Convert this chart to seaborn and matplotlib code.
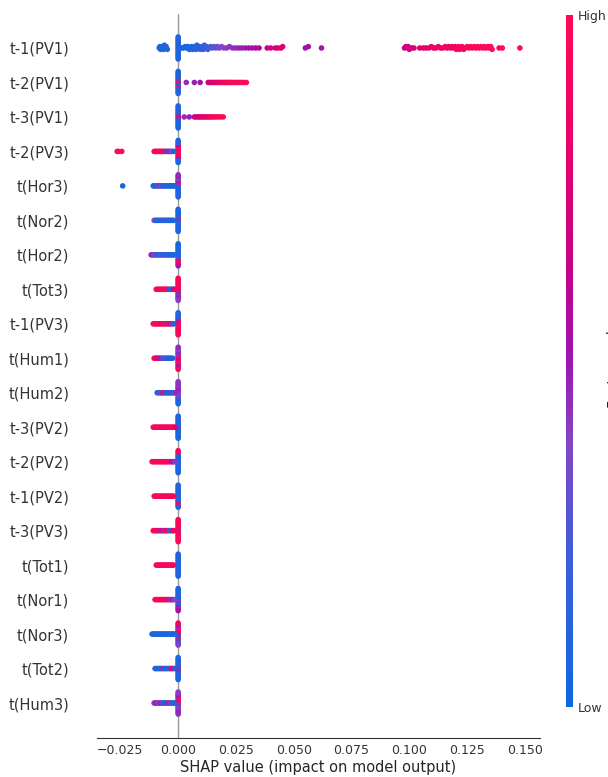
import numpy as np
import pandas as pd
import matplotlib
matplotlib.use("Agg")
import matplotlib.pyplot as plt
import seaborn as sns
from matplotlib.colors import LinearSegmentedColormap, Normalize
from matplotlib.cm import ScalarMappable

# Features, most important first
features = ["t-1(PV1)", "t-2(PV1)", "t-3(PV1)", "t-2(PV3)", "t(Hor3)", "t(Nor2)",
            "t(Hor2)", "t(Tot3)", "t-1(PV3)", "t(Hum1)", "t(Hum2)", "t-3(PV2)",
            "t-2(PV2)", "t-1(PV2)", "t-3(PV3)", "t(Tot1)", "t(Nor1)", "t(Nor3)",
            "t(Tot2)", "t(Hum3)"]

# Samples whose SHAP value is ~0: normalised feature values (0 = low, 1 = high)
P_t1_PV1 = [0.06, 0.10, 0.04, 0.12, 0.08, 0.05, 0.14, 0.09, 0.07, 0.11, 0.05, 0.13, 0.06, 0.10, 0.08, 0.12, 0.05]
P_t2_PV1 = [0.10, 0.90, 0.85, 0.08, 0.12, 0.92, 0.06, 0.05, 0.95, 0.09, 0.07, 0.11, 0.10, 0.06, 0.05, 0.08, 0.12]
P_t3_PV1 = [0.90, 0.50, 0.85, 0.92, 0.45, 0.10, 0.08, 0.12, 0.06, 0.09, 0.05, 0.11, 0.07, 0.08, 0.05, 0.10, 0.06]
P_t2_PV3 = [0.95, 0.92, 0.97, 0.90, 0.94, 0.96, 0.93, 0.98, 0.91, 0.60, 0.95, 0.15, 0.50, 0.10, 0.12, 0.08, 0.06]
P_Hor3 = [0.95, 0.90, 0.10, 0.45, 0.08, 0.92, 0.12, 0.50, 0.06, 0.40, 0.05, 0.35, 0.10, 0.55, 0.08, 0.45, 0.12]
P_Nor2 = [0.90, 0.92, 0.10, 0.95, 0.08, 0.06, 0.12, 0.05, 0.09, 0.07, 0.11, 0.05, 0.08, 0.06, 0.10, 0.07, 0.05]
P_Hor2 = [0.08, 0.06, 0.10, 0.05, 0.12, 0.07, 0.09, 0.05, 0.40, 0.08, 0.90, 0.06, 0.95, 0.10, 0.92, 0.05, 0.50]
P_Tot3 = [0.60, 0.95, 0.45, 0.92, 0.90, 0.97, 0.40, 0.94, 0.55, 0.90, 0.35, 0.96, 0.50, 0.93, 0.45, 0.95, 0.40]
P_t1_PV3 = [0.95, 0.92, 0.97, 0.90, 0.94, 0.96, 0.93, 0.50, 0.98, 0.15, 0.91, 0.10, 0.95, 0.08, 0.92, 0.12, 0.96]
P_Hum1 = [0.95, 0.90, 0.93, 0.96, 0.50, 0.45, 0.92, 0.40, 0.97, 0.50, 0.45, 0.35, 0.90, 0.40, 0.50, 0.45, 0.95]
P_Hum2 = [0.40, 0.45, 0.35, 0.42, 0.38, 0.45, 0.40, 0.48, 0.36, 0.44, 0.15, 0.40, 0.10, 0.46, 0.08, 0.42, 0.06]
P_t3_PV2 = [0.08, 0.06, 0.90, 0.10, 0.05, 0.12, 0.07, 0.09, 0.05, 0.11, 0.08, 0.06, 0.10, 0.07, 0.05, 0.09, 0.06]
P_t2_PV2 = [0.08, 0.06, 0.10, 0.05, 0.12, 0.07, 0.09, 0.05, 0.11, 0.08, 0.06, 0.10, 0.07, 0.90, 0.09, 0.95, 0.06]
P_t1_PV2 = [0.08, 0.06, 0.10, 0.05, 0.12, 0.07, 0.09, 0.05, 0.11, 0.08, 0.06, 0.10, 0.92, 0.07, 0.95, 0.09, 0.06]
P_t3_PV3 = [0.10, 0.92, 0.15, 0.95, 0.90, 0.97, 0.93, 0.96, 0.91, 0.94, 0.98, 0.92, 0.95, 0.90, 0.96, 0.93, 0.97]
P_Tot1 = [0.08, 0.06, 0.10, 0.05, 0.12, 0.07, 0.09, 0.05, 0.11, 0.08, 0.06, 0.10, 0.07, 0.05, 0.09, 0.06, 0.08]
P_Nor1 = [0.08, 0.06, 0.90, 0.05, 0.12, 0.07, 0.45, 0.05, 0.11, 0.08, 0.06, 0.10, 0.50, 0.05, 0.45, 0.06, 0.55]
P_Nor3 = [0.45, 0.95, 0.10, 0.92, 0.50, 0.90, 0.08, 0.96, 0.95, 0.40, 0.12, 0.93, 0.45, 0.50, 0.10, 0.92, 0.40]
P_Tot2 = [0.10, 0.45, 0.08, 0.90, 0.06, 0.12, 0.50, 0.05, 0.10, 0.07, 0.09, 0.05, 0.11, 0.08, 0.06, 0.10, 0.07]
P_Hum3 = [0.45, 0.90, 0.40, 0.95, 0.42, 0.92, 0.48, 0.96, 0.38, 0.45, 0.40, 0.50, 0.44, 0.42, 0.46, 0.40, 0.45]

# Remaining samples: (SHAP value, normalised feature value)
T_t1_PV1 = [(-0.0082, 0.08), (-0.0079, 0.05), (-0.0076, 0.10), (-0.0072, 0.06), (-0.0068, 0.12),
            (-0.0064, 0.07), (-0.0060, 0.09), (-0.0056, 0.05), (-0.0052, 0.11), (-0.0047, 0.08),
            (0.0015, 0.03), (0.0022, 0.05), (0.0030, 0.04), (0.0036, 0.06), (0.0042, 0.05),
            (0.0048, 0.08), (0.0053, 0.07), (0.0058, 0.06), (0.0063, 0.09), (0.0068, 0.08),
            (0.0072, 0.10), (0.0077, 0.09), (0.0081, 0.12), (0.0086, 0.11), (0.0090, 0.13),
            (0.0095, 0.12), (0.0100, 0.15), (0.0104, 0.14), (0.0109, 0.17), (0.0113, 0.16),
            (0.0118, 0.18), (0.0122, 0.20), (0.0128, 0.19), (0.0133, 0.22), (0.0140, 0.24),
            (0.0147, 0.26), (0.0155, 0.28), (0.0163, 0.30), (0.0170, 0.32),
            (0.0178, 0.34), (0.0188, 0.36), (0.0198, 0.38), (0.0210, 0.40), (0.0222, 0.42),
            (0.0235, 0.43), (0.0248, 0.45), (0.0262, 0.47), (0.0275, 0.48), (0.0290, 0.50),
            (0.0305, 0.52), (0.0320, 0.54), (0.0335, 0.56), (0.0350, 0.58),
            (0.0385, 0.66), (0.0400, 0.70), (0.0420, 0.74), (0.0432, 0.72), (0.0445, 0.78), (0.0452, 0.76),
            (0.0550, 0.50), (0.0563, 0.52), (0.0620, 0.55),
            (0.0979, 0.66), (0.0985, 0.70), (0.0992, 0.68), (0.0995, 0.72), (0.1000, 0.70),
            (0.1010, 0.74), (0.1020, 0.73),
            (0.1045, 0.76), (0.1060, 0.78), (0.1072, 0.80), (0.1085, 0.79), (0.1095, 0.82),
            (0.1105, 0.81), (0.1115, 0.84), (0.1125, 0.83), (0.1135, 0.85), (0.1145, 0.86),
            (0.1155, 0.87), (0.1163, 0.86), (0.1170, 0.88), (0.1178, 0.89), (0.1185, 0.88),
            (0.1192, 0.90), (0.1198, 0.89), (0.1203, 0.91), (0.1208, 0.90), (0.1213, 0.92),
            (0.1218, 0.91), (0.1223, 0.93), (0.1228, 0.92), (0.1235, 0.94), (0.1242, 0.93),
            (0.1250, 0.95), (0.1258, 0.94), (0.1265, 0.96), (0.1272, 0.95), (0.1280, 0.97),
            (0.1288, 0.96), (0.1295, 0.97), (0.1302, 0.98), (0.1310, 0.97), (0.1318, 0.98),
            (0.1325, 0.99), (0.1332, 0.98), (0.1340, 0.99), (0.1346, 1.00), (0.1352, 0.99),
            (0.1358, 1.00), (0.1388, 0.98), (0.1402, 0.99), (0.1478, 1.00)]
T_t2_PV1 = [(0.0035, 0.45), (0.0070, 0.48), (0.0095, 0.50),
            (0.0130, 0.68), (0.0137, 0.70), (0.0145, 0.74), (0.0152, 0.72), (0.0160, 0.78),
            (0.0167, 0.80), (0.0174, 0.84), (0.0180, 0.82), (0.0187, 0.88), (0.0193, 0.86),
            (0.0200, 0.90), (0.0206, 0.92), (0.0212, 0.88), (0.0218, 0.94), (0.0224, 0.92),
            (0.0230, 0.96), (0.0237, 0.95), (0.0244, 0.97), (0.0252, 0.96), (0.0260, 0.98),
            (0.0268, 0.97), (0.0276, 0.99), (0.0285, 0.98), (0.0295, 1.00)]
T_t3_PV1 = [(0.0026, 0.45), (0.0048, 0.48), (0.0070, 0.66), (0.0078, 0.70), (0.0086, 0.68),
            (0.0093, 0.74), (0.0100, 0.78), (0.0107, 0.76), (0.0114, 0.82), (0.0121, 0.85),
            (0.0128, 0.88), (0.0135, 0.86), (0.0142, 0.90), (0.0150, 0.92), (0.0158, 0.94),
            (0.0166, 0.93), (0.0175, 0.96), (0.0185, 0.97), (0.0195, 0.99)]
T_t2_PV3 = [(-0.0264, 0.97), (-0.0258, 0.98), (-0.0244, 0.96),
            (-0.0104, 0.95), (-0.0099, 0.97), (-0.0094, 0.93), (-0.0089, 0.96), (-0.0084, 0.94),
            (-0.0079, 0.98), (-0.0074, 0.92), (-0.0069, 0.95), (-0.0064, 0.90), (-0.0059, 0.93),
            (-0.0054, 0.55), (-0.0049, 0.20), (-0.0044, 0.60), (-0.0039, 0.15), (-0.0034, 0.45),
            (-0.0029, 0.20), (-0.0024, 0.35), (-0.0019, 0.10)]
T_Hor3 = [(-0.0240, 0.05),
          (-0.0108, 0.08), (-0.0103, 0.05), (-0.0098, 0.10), (-0.0093, 0.06), (-0.0088, 0.40),
          (-0.0083, 0.12), (-0.0078, 0.45), (-0.0073, 0.35), (-0.0068, 0.08), (-0.0063, 0.42),
          (-0.0058, 0.10), (-0.0053, 0.05), (-0.0048, 0.12), (-0.0043, 0.06), (-0.0038, 0.09),
          (-0.0033, 0.05), (-0.0028, 0.08), (-0.0023, 0.06), (-0.0018, 0.10), (-0.0013, 0.05)]
T_Nor2 = [(-0.0104, 0.40), (-0.0099, 0.35), (-0.0094, 0.10), (-0.0089, 0.06), (-0.0084, 0.12),
          (-0.0079, 0.05), (-0.0074, 0.08), (-0.0069, 0.10), (-0.0064, 0.06), (-0.0059, 0.30),
          (-0.0054, 0.05), (-0.0049, 0.09), (-0.0044, 0.07), (-0.0039, 0.12), (-0.0034, 0.05),
          (-0.0029, 0.08), (-0.0024, 0.06), (-0.0019, 0.10)]
T_Hor2 = [(-0.0117, 0.45), (-0.0112, 0.50), (-0.0107, 0.40), (-0.0102, 0.35), (-0.0097, 0.10),
          (-0.0092, 0.08), (-0.0087, 0.40), (-0.0082, 0.12), (-0.0077, 0.06), (-0.0072, 0.38),
          (-0.0067, 0.05), (-0.0062, 0.10), (-0.0057, 0.07), (-0.0052, 0.30), (-0.0047, 0.05),
          (-0.0042, 0.08), (-0.0037, 0.10), (-0.0032, 0.06), (-0.0027, 0.09), (-0.0022, 0.05),
          (-0.0017, 0.08)]
T_Tot3 = [(-0.0095, 0.95), (-0.0090, 0.97), (-0.0085, 0.93), (-0.0080, 0.96), (-0.0075, 0.94),
          (-0.0070, 0.98), (-0.0065, 0.92), (-0.0060, 0.95), (-0.0055, 0.90), (-0.0050, 0.96),
          (-0.0045, 0.93), (-0.0040, 0.45), (-0.0035, 0.10), (-0.0030, 0.08), (-0.0025, 0.12),
          (-0.0020, 0.50), (-0.0015, 0.90)]
T_t1_PV3 = [(-0.0108, 0.95), (-0.0103, 0.97), (-0.0098, 0.93), (-0.0093, 0.96), (-0.0088, 0.94),
            (-0.0083, 0.98), (-0.0078, 0.92), (-0.0073, 0.95), (-0.0068, 0.90), (-0.0063, 0.96),
            (-0.0058, 0.93), (-0.0053, 0.15), (-0.0048, 0.95), (-0.0043, 0.92), (-0.0038, 0.96),
            (-0.0033, 0.90), (-0.0028, 0.94), (-0.0023, 0.20), (-0.0018, 0.10)]
T_Hum1 = [(-0.0104, 0.95), (-0.0099, 0.97), (-0.0094, 0.92), (-0.0089, 0.90), (-0.0084, 0.55),
          (-0.0079, 0.45), (-0.0074, 0.70), (-0.0069, 0.40), (-0.0064, 0.15), (-0.0059, 0.10),
          (-0.0054, 0.35), (-0.0049, 0.08), (-0.0044, 0.12), (-0.0039, 0.06), (-0.0034, 0.10),
          (-0.0029, 0.05), (-0.0024, 0.08)]
T_Hum2 = [(-0.0091, 0.10), (-0.0086, 0.06), (-0.0081, 0.12), (-0.0076, 0.40), (-0.0071, 0.08),
          (-0.0066, 0.90), (-0.0061, 0.45), (-0.0056, 0.92), (-0.0051, 0.10), (-0.0046, 0.05),
          (-0.0041, 0.08), (-0.0036, 0.12), (-0.0031, 0.06), (-0.0026, 0.09), (-0.0021, 0.05),
          (-0.0016, 0.30), (-0.0011, 0.45)]
T_t3_PV2 = [(-0.0108, 0.95), (-0.0103, 0.97), (-0.0098, 0.93), (-0.0093, 0.96), (-0.0088, 0.94),
            (-0.0083, 0.98), (-0.0078, 0.92), (-0.0073, 0.95), (-0.0068, 0.90), (-0.0063, 0.96),
            (-0.0058, 0.93), (-0.0053, 0.97), (-0.0048, 0.91), (-0.0043, 0.95), (-0.0038, 0.92),
            (-0.0033, 0.96), (-0.0028, 0.94), (-0.0023, 0.90), (-0.0018, 0.93), (-0.0013, 0.80)]
T_t2_PV2 = [(-0.0113, 0.95), (-0.0108, 0.97), (-0.0103, 0.93), (-0.0098, 0.96), (-0.0093, 0.94),
            (-0.0088, 0.98), (-0.0083, 0.92), (-0.0078, 0.95), (-0.0073, 0.90), (-0.0068, 0.96),
            (-0.0063, 0.93), (-0.0058, 0.97), (-0.0053, 0.91), (-0.0048, 0.95), (-0.0043, 0.92),
            (-0.0038, 0.96), (-0.0033, 0.94), (-0.0028, 0.55), (-0.0023, 0.45), (-0.0018, 0.50),
            (-0.0013, 0.40)]
T_t1_PV2 = [(-0.0104, 0.95), (-0.0099, 0.97), (-0.0094, 0.93), (-0.0089, 0.96), (-0.0084, 0.94),
            (-0.0079, 0.98), (-0.0074, 0.92), (-0.0069, 0.95), (-0.0064, 0.90), (-0.0059, 0.96),
            (-0.0054, 0.93), (-0.0049, 0.97), (-0.0044, 0.91), (-0.0039, 0.95), (-0.0034, 0.92),
            (-0.0029, 0.96), (-0.0024, 0.94), (-0.0019, 0.90)]
T_t3_PV3 = [(-0.0108, 0.95), (-0.0103, 0.97), (-0.0098, 0.93), (-0.0093, 0.96), (-0.0088, 0.94),
            (-0.0083, 0.90), (-0.0078, 0.45), (-0.0073, 0.92), (-0.0068, 0.50), (-0.0063, 0.40),
            (-0.0058, 0.93), (-0.0053, 0.95), (-0.0048, 0.91), (-0.0043, 0.95), (-0.0038, 0.15),
            (-0.0033, 0.10), (-0.0028, 0.12), (-0.0023, 0.93), (-0.0018, 0.90)]
T_Tot1 = [(-0.0095, 0.95), (-0.0090, 0.97), (-0.0085, 0.93), (-0.0080, 0.96), (-0.0075, 0.94),
          (-0.0070, 0.98), (-0.0065, 0.92), (-0.0060, 0.95), (-0.0055, 0.90), (-0.0050, 0.96),
          (-0.0045, 0.93), (-0.0040, 0.97), (-0.0035, 0.91), (-0.0030, 0.95), (-0.0025, 0.92),
          (-0.0020, 0.88)]
T_Nor1 = [(-0.0100, 0.95), (-0.0095, 0.97), (-0.0090, 0.93), (-0.0085, 0.96), (-0.0080, 0.94),
          (-0.0075, 0.98), (-0.0070, 0.92), (-0.0065, 0.95), (-0.0060, 0.90), (-0.0055, 0.96),
          (-0.0050, 0.93), (-0.0045, 0.50), (-0.0040, 0.45), (-0.0035, 0.92), (-0.0030, 0.40),
          (-0.0025, 0.55), (-0.0020, 0.45), (-0.0015, 0.35)]
T_Nor3 = [(-0.0113, 0.08), (-0.0108, 0.06), (-0.0103, 0.10), (-0.0098, 0.05), (-0.0093, 0.12),
          (-0.0088, 0.07), (-0.0083, 0.09), (-0.0078, 0.05), (-0.0073, 0.11), (-0.0068, 0.08),
          (-0.0063, 0.06), (-0.0058, 0.10), (-0.0053, 0.07), (-0.0048, 0.05), (-0.0043, 0.09),
          (-0.0038, 0.06), (-0.0033, 0.08), (-0.0028, 0.10), (-0.0023, 0.05), (-0.0018, 0.07),
          (-0.0013, 0.09)]
T_Tot2 = [(-0.0100, 0.08), (-0.0095, 0.06), (-0.0090, 0.10), (-0.0085, 0.05), (-0.0080, 0.12),
          (-0.0075, 0.07), (-0.0070, 0.09), (-0.0065, 0.85), (-0.0060, 0.11), (-0.0055, 0.08),
          (-0.0050, 0.06), (-0.0045, 0.10), (-0.0040, 0.07), (-0.0035, 0.05), (-0.0030, 0.90),
          (-0.0025, 0.92), (-0.0020, 0.88), (-0.0015, 0.10)]
T_Hum3 = [(-0.0104, 0.45), (-0.0099, 0.40), (-0.0094, 0.50), (-0.0089, 0.42), (-0.0084, 0.38),
          (-0.0079, 0.45), (-0.0074, 0.48), (-0.0069, 0.40), (-0.0064, 0.12), (-0.0059, 0.08),
          (-0.0054, 0.10), (-0.0049, 0.06), (-0.0044, 0.45), (-0.0039, 0.92), (-0.0034, 0.40),
          (-0.0029, 0.10), (-0.0024, 0.08), (-0.0019, 0.12), (-0.0014, 0.10)]

piles = [P_t1_PV1, P_t2_PV1, P_t3_PV1, P_t2_PV3, P_Hor3, P_Nor2, P_Hor2, P_Tot3, P_t1_PV3,
         P_Hum1, P_Hum2, P_t3_PV2, P_t2_PV2, P_t1_PV2, P_t3_PV3, P_Tot1, P_Nor1, P_Nor3,
         P_Tot2, P_Hum3]
tails = [T_t1_PV1, T_t2_PV1, T_t3_PV1, T_t2_PV3, T_Hor3, T_Nor2, T_Hor2, T_Tot3, T_t1_PV3,
         T_Hum1, T_Hum2, T_t3_PV2, T_t2_PV2, T_t1_PV2, T_t3_PV3, T_Tot1, T_Nor1, T_Nor3,
         T_Tot2, T_Hum3]

# Low -> high feature value colour ramp (blue -> violet -> magenta -> red)
cmap = LinearSegmentedColormap.from_list("red_blue", [
    (0.00, "#0E68E0"), (0.22, "#3E5ED8"), (0.38, "#8446C6"), (0.50, "#9C16B2"),
    (0.62, "#C0028C"), (0.80, "#E6006A"), (1.00, "#FF0A55")])


def swarm_offsets(shaps, row_height=0.4, nbins=100):
    """Stack samples that fall into the same SHAP bin, alternating up/down."""
    shaps = np.asarray(shaps, dtype=float)
    quant = np.round(nbins * (shaps - shaps.min()) / (shaps.max() - shaps.min() + 1e-8))
    ys = np.zeros(len(shaps))
    layer, last = 0, -1
    for i in np.argsort(quant, kind="stable"):
        if quant[i] != last:
            layer = 0
        ys[i] = np.ceil(layer / 2) * ((layer % 2) * 2 - 1)
        layer += 1
        last = quant[i]
    return ys * 0.9 * (row_height / np.max(ys + 1))


n = len(features)
frames = []
for i, (name, pile, tail) in enumerate(zip(features, piles, tails)):
    shap_vals = [0.0] * len(pile) + [s for s, _ in tail]
    feat_vals = list(pile) + [v for _, v in tail]
    pos = n - 1 - i
    frames.append(pd.DataFrame({"feature": name, "shap": shap_vals, "value": feat_vals,
                                "y": pos + swarm_offsets(shap_vals)}))
df = pd.concat(frames, ignore_index=True)

axis_color = "#333333"

sns.set_style("white")
fig = plt.figure(figsize=(6.08, 7.77), dpi=100)
ax = fig.add_axes([97 / 608, 1 - 737.5 / 777, 443 / 608, 724 / 777])
cax = fig.add_axes([566 / 608, 1 - 707 / 777, 7 / 608, 692 / 777])

ax.axvline(0, color="#999999", lw=1.0, zorder=-1)
for pos in range(n):
    ax.axhline(pos, color="#e4e4e4", lw=0.5, dashes=(1, 5), zorder=-1)

sns.scatterplot(data=df, x="shap", y="y", hue="value", palette=cmap, hue_norm=(0, 1),
                s=16, linewidth=0, legend=False, ax=ax, zorder=3)

ax.set_ylim(-1, n)
ax.set_yticks(range(n))
ax.set_yticklabels(features[::-1], fontsize=10.5)
ax.set_ylabel("")
ax.set_xlabel("SHAP value (impact on model output)", fontsize=10.5, labelpad=2)
ax.tick_params(axis="y", length=0, pad=20, labelcolor=axis_color)
ax.tick_params(axis="x", labelsize=9, color=axis_color, labelcolor=axis_color,
               length=2.5, width=0.8, pad=2)
for side in ("top", "right", "left"):
    ax.spines[side].set_visible(False)
ax.spines["bottom"].set_color(axis_color)
ax.grid(False)

cb = fig.colorbar(ScalarMappable(norm=Normalize(0, 1), cmap=cmap), cax=cax, ticks=[0, 1])
cb.set_ticklabels(["Low", "High"])
cb.outline.set_visible(False)
cb.ax.tick_params(labelsize=9, length=0, labelcolor=axis_color)
cb.set_label("Feature value", size=10, labelpad=0)

fig.savefig("out.png", dpi=100)
